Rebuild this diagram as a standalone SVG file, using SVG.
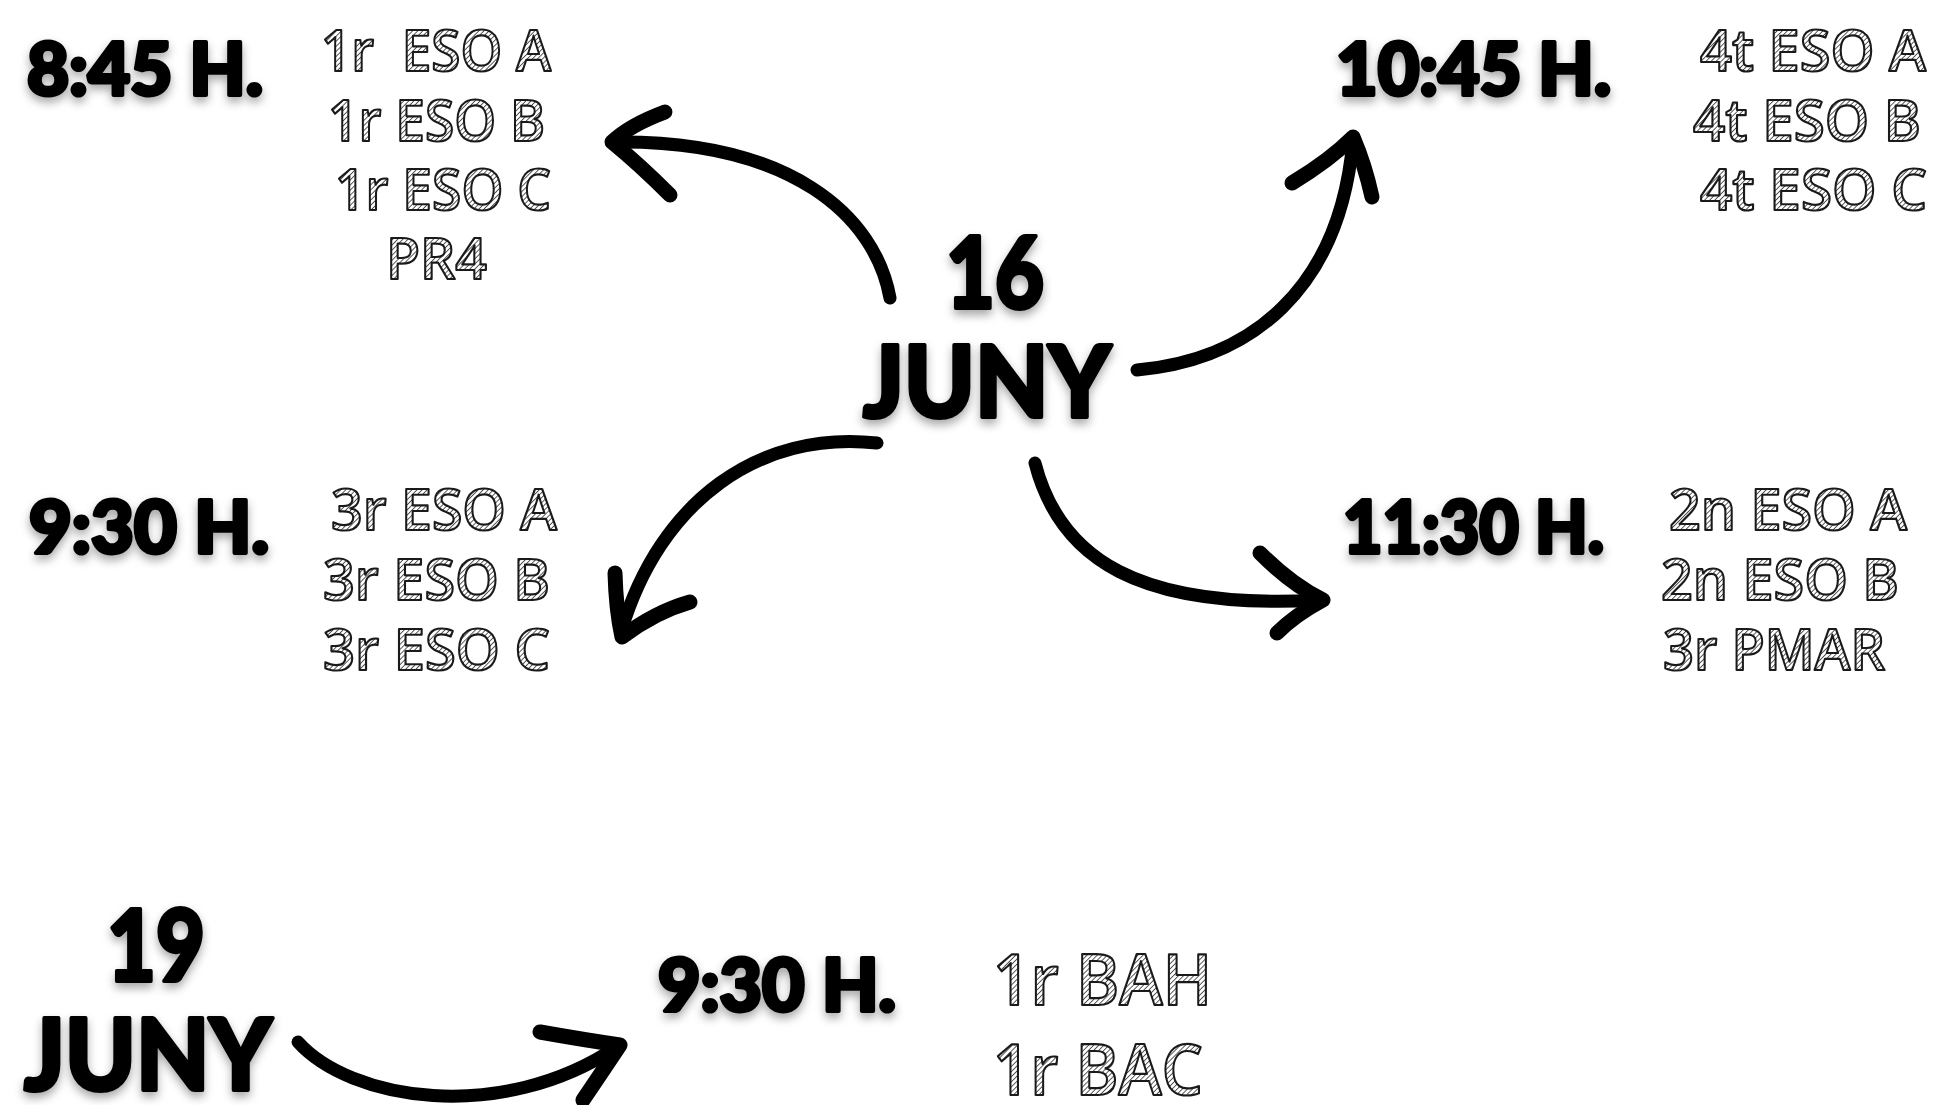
<svg xmlns="http://www.w3.org/2000/svg" width="1934" height="1105" viewBox="0 0 1934 1105">
<defs>
<pattern id="hatch" width="3.6" height="3.6" patternUnits="userSpaceOnUse" patternTransform="rotate(45)">
<rect width="3.6" height="3.6" fill="#ffffff"/>
<line x1="0" y1="0" x2="0" y2="3.6" stroke="#333" stroke-width="1.6"/>
</pattern>
<filter id="shadow" x="-20%" y="-30%" width="140%" height="170%">
<feDropShadow dx="0" dy="5" stdDeviation="5" flood-color="#000" flood-opacity="0.35"/>
</filter>
</defs>
<style>
.big{font-family:Lato,Inter,Roboto,"Liberation Sans",sans-serif;font-weight:900;fill:#000;stroke:#000;stroke-width:4;stroke-linejoin:round;filter:url(#shadow)}
.t{font-size:72px}
.d{font-size:100px}
.sk{font-family:"Open Sans","Noto Sans","Liberation Sans",sans-serif;font-weight:600;font-size:58px;fill:url(#hatch);stroke:#1a1a1a;stroke-width:2.2;stroke-linejoin:round;white-space:pre}
.skl{font-size:70px}
.arrow{fill:none;stroke:#000;stroke-linecap:round;stroke-linejoin:round}
.shaft{stroke-width:13}
.barb{stroke-width:15}
</style>
<rect width="1934" height="1105" fill="#ffffff"/>

<g id="connectors">
<g id="arrow-845">
<path class="arrow shaft" d="M890,298 C875,215 790,140 614,142"/>
<path class="arrow barb" d="M665,112 Q630,125 612,142 Q640,165 670,195"/>
</g>
<g id="arrow-1045">
<path class="arrow shaft" d="M1137,370 C1250,360 1340,290 1353,140"/>
<path class="arrow barb" d="M1292,183 Q1330,160 1353,137 Q1365,165 1372,197"/>
</g>
<g id="arrow-930">
<path class="arrow shaft" d="M877,443 C760,430 660,500 621,632"/>
<path class="arrow barb" d="M615,573 Q616,610 622,637 Q655,612 690,602"/>
</g>
<g id="arrow-1130">
<path class="arrow shaft" d="M1035,463 C1060,560 1140,610 1320,600"/>
<path class="arrow barb" d="M1260,553 Q1292,585 1323,600 Q1295,615 1277,633"/>
</g>
<g id="arrow-19">
<path class="arrow shaft" d="M298,1042 C350,1100 500,1125 617,1047"/>
<path class="arrow barb" d="M540,1032 Q585,1040 620,1045 Q600,1075 583,1100"/>
</g>
</g>

<g id="day16">
<text class="big d" x="946" y="308" textLength="98" lengthAdjust="spacingAndGlyphs">16</text>
<text class="big d" x="863" y="417" textLength="248" lengthAdjust="spacingAndGlyphs">JUNY</text>
</g>

<g id="slot-845">
<text class="big t" x="27" y="95" textLength="236" lengthAdjust="spacingAndGlyphs">8:45 H.</text>
<text class="sk" x="321" y="71" textLength="230" lengthAdjust="spacingAndGlyphs">1r  ESO A</text>
<text class="sk" x="328" y="141" textLength="217" lengthAdjust="spacingAndGlyphs">1r ESO B</text>
<text class="sk" x="335" y="210" textLength="216" lengthAdjust="spacingAndGlyphs">1r ESO C</text>
<text class="sk" x="386" y="279" textLength="101" lengthAdjust="spacingAndGlyphs">PR4</text>
</g>

<g id="slot-1045">
<text class="big t" x="1336" y="95" textLength="275" lengthAdjust="spacingAndGlyphs">10:45 H.</text>
<text class="sk" x="1700" y="71" textLength="226" lengthAdjust="spacingAndGlyphs">4t ESO A</text>
<text class="sk" x="1693" y="141" textLength="228" lengthAdjust="spacingAndGlyphs">4t ESO B</text>
<text class="sk" x="1700" y="210" textLength="227" lengthAdjust="spacingAndGlyphs">4t ESO C</text>
</g>

<g id="slot-930">
<text class="big t" x="29" y="553" textLength="240" lengthAdjust="spacingAndGlyphs">9:30 H.</text>
<text class="sk" x="331" y="530" textLength="226" lengthAdjust="spacingAndGlyphs">3r ESO A</text>
<text class="sk" x="323" y="600" textLength="227" lengthAdjust="spacingAndGlyphs">3r ESO B</text>
<text class="sk" x="323" y="670" textLength="227" lengthAdjust="spacingAndGlyphs">3r ESO C</text>
</g>

<g id="slot-1130">
<text class="big t" x="1343" y="553" textLength="261" lengthAdjust="spacingAndGlyphs">11:30 H.</text>
<text class="sk" x="1669" y="530" textLength="238" lengthAdjust="spacingAndGlyphs">2n ESO A</text>
<text class="sk" x="1661" y="600" textLength="238" lengthAdjust="spacingAndGlyphs">2n ESO B</text>
<text class="sk" x="1663" y="670" textLength="222" lengthAdjust="spacingAndGlyphs">3r PMAR</text>
</g>

<g id="day19">
<text class="big d" x="107" y="981" textLength="98" lengthAdjust="spacingAndGlyphs">19</text>
<text class="big d" x="24" y="1090" textLength="248" lengthAdjust="spacingAndGlyphs">JUNY</text>
</g>

<g id="slot-19-930">
<text class="big t" x="658" y="1011" textLength="238" lengthAdjust="spacingAndGlyphs">9:30 H.</text>
<text class="sk skl" x="993" y="1005" textLength="219" lengthAdjust="spacingAndGlyphs">1r BAH</text>
<text class="sk skl" x="993" y="1095" textLength="210" lengthAdjust="spacingAndGlyphs">1r BAC</text>
</g>
</svg>
